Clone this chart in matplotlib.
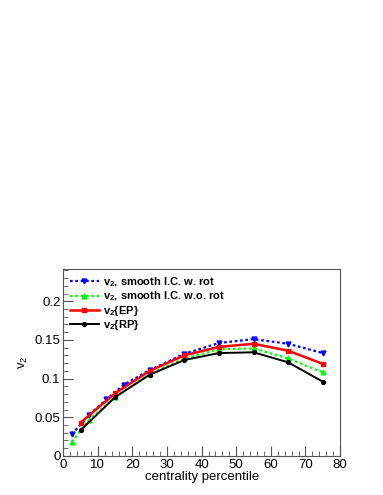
import numpy as np
import matplotlib.pyplot as plt
from matplotlib.ticker import MultipleLocator

plt.rcParams["font.family"] = ["Liberation Sans", "DejaVu Sans"]
plt.rcParams["mathtext.fontset"] = "custom"
plt.rcParams["mathtext.rm"] = "Liberation Sans"
plt.rcParams["mathtext.bf"] = "Liberation Sans:bold"

# data
x_rot = [2.5, 7.5, 12.5, 17.5, 25, 35, 45, 55, 65, 75]
v2_rot = [0.028, 0.053, 0.073, 0.092, 0.111, 0.132, 0.146, 0.151, 0.145, 0.133]

x_norot = [2.5, 7.5, 15, 25, 35, 45, 55, 65, 75]
v2_norot = [0.018, 0.047, 0.076, 0.106, 0.126, 0.138, 0.139, 0.126, 0.108]

x_ep = [5, 15, 25, 35, 45, 55, 65, 75]
v2_ep = [0.043, 0.081, 0.110, 0.130, 0.141, 0.145, 0.136, 0.119]

x_rp = [5, 15, 25, 35, 45, 55, 65, 75]
v2_rp = [0.033, 0.076, 0.105, 0.124, 0.133, 0.134, 0.121, 0.096]

fig = plt.figure(figsize=(3.83, 4.95), dpi=100)
ax = fig.add_axes([0.165, 0.079, 0.723, 0.378])

sub = r"$_{\mathbf{2}}$"
ax.plot(x_rot, v2_rot, color="blue", ls=(0, (1.2, 1.2)), lw=1.6,
        marker="v", ms=3.5, label="v" + sub + ", smooth I.C. w. rot")
ax.plot(x_norot, v2_norot, color="#00ff00", ls=(0, (1.2, 1.2)), lw=1.6,
        marker="^", ms=3.5, label="v" + sub + ", smooth I.C. w.o. rot")
ax.plot(x_ep, v2_ep, color="red", lw=1.8, marker="s", ms=3.5,
        label="v" + sub + "{EP}")
ax.plot(x_rp, v2_rp, color="black", lw=1.4, marker="o", ms=2.8,
        label="v" + sub + "{RP}")

ax.set_xlim(0, 80)
ax.set_ylim(0, 0.242)
ax.xaxis.set_major_locator(MultipleLocator(10))
ax.xaxis.set_minor_locator(MultipleLocator(2))
ax.set_yticks([0, 0.05, 0.1, 0.15, 0.2])
ax.set_yticklabels(["0", "0.05", "0.1", "0.15", "0.2"])
ax.yaxis.set_minor_locator(MultipleLocator(0.01))
ax.tick_params(which="both", direction="in", top=False, right=False,
               labelsize=9.5, color="#555555", pad=2)
ax.tick_params(which="major", length=7)
ax.tick_params(which="minor", length=3.5)
for s in ax.spines.values():
    s.set_color("#555555")

ax.set_xlabel("centrality percentile", fontsize=9.5, labelpad=0)
ax.set_ylabel(r"v$_2$", fontsize=9.5, labelpad=3)

leg = ax.legend(loc="upper left", frameon=False,
                prop={"family": "Liberation Sans", "weight": "bold", "size": 8},
                handlelength=2.6, handletextpad=0.4, labelspacing=0.05,
                borderaxespad=0.2, bbox_to_anchor=(0.0, 1.0))

fig.savefig("out.png", dpi=100)
